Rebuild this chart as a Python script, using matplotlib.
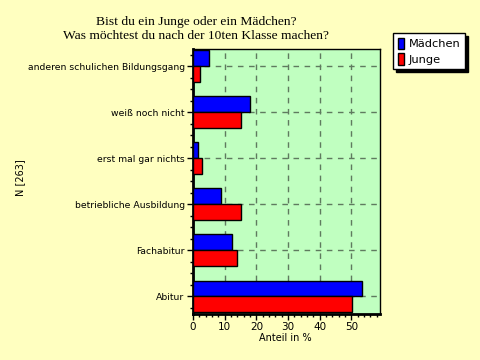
import matplotlib
matplotlib.use("Agg")
import matplotlib.pyplot as plt
import numpy as np
from matplotlib.ticker import MultipleLocator
from matplotlib.patches import Patch

categories = ["Abitur", "Fachabitur", "betriebliche Ausbildung",
              "erst mal gar nichts", "weiß noch nicht",
              "anderen schulichen Bildungsgang"]
maedchen = [53.4, 12.2, 8.7, 1.5, 17.9, 4.9]
junge = [50.2, 13.8, 15.1, 2.7, 15.1, 2.1]
series_names = ["Mädchen", "Junge"]
title_lines = ["Bist du ein Junge oder ein Mädchen?",
               "Was möchtest du nach der 10ten Klasse machen?"]

fig = plt.figure(figsize=(4.8, 3.6), dpi=100)
fig.patch.set_facecolor("#FFFFC0")
ax = fig.add_axes([193/480, 1-313.5/360, (380-193)/480, (313.5-49)/360])
ax.set_facecolor("#C0FFC0")

y = np.arange(len(categories))
h = 0.345
ax.barh(y + h/2, maedchen, height=h, color="#0000FF", edgecolor="black", linewidth=1, zorder=3)
ax.barh(y - h/2, junge, height=h, color="#FF0000", edgecolor="black", linewidth=1, zorder=3)

ax.set_xlim(0, 59)
ax.set_ylim(-0.37, len(categories) - 1 + 0.37)
ax.set_yticks(y)
ax.set_yticklabels(categories)
ax.yaxis.set_minor_locator(MultipleLocator(0.25))
ax.xaxis.set_minor_locator(MultipleLocator(2))
ax.set_xticks([0, 10, 20, 30, 40, 50])
ax.tick_params(axis="both", which="major", length=4, width=1, colors="black")
ax.tick_params(axis="y", which="major", labelsize=6.7, pad=2)
ax.tick_params(axis="x", which="major", labelsize=7.5, pad=2)
ax.tick_params(axis="both", which="minor", length=2.5, width=1)

ax.set_axisbelow(True)
ax.grid(True, which="major", color="#5f7a5f", linestyle=(0, (4, 4)), linewidth=1)

for s in ["left", "bottom"]:
    ax.spines[s].set_linewidth(2)
for s in ["top", "right"]:
    ax.spines[s].set_linewidth(1)

fig.text(196/480, 1-22/360, title_lines[0], ha="center", va="center",
         family="Liberation Serif", fontsize=9.7)
fig.text(196/480, 1-36/360, title_lines[1], ha="center", va="center",
         family="Liberation Serif", fontsize=9.7)
fig.text(285/480, 1-338/360, "Anteil in %", ha="center", va="center", fontsize=7)
fig.text(20/480, 1-178/360, "N [263]", ha="center", va="center", rotation=90, fontsize=7)

handles = [Patch(facecolor="#0000FF", edgecolor="black"),
           Patch(facecolor="#FF0000", edgecolor="black")]
leg = fig.legend(handles, series_names, loc="upper left",
                 bbox_to_anchor=(393/480, 1-33/360), fontsize=8.2,
                 frameon=True, fancybox=False, edgecolor="black",
                 facecolor="white", framealpha=1,
                 shadow={"color": "black", "alpha": 1},
                 handlelength=0.6, handleheight=1.2, handletextpad=0.4,
                 borderpad=0.4, labelspacing=0.35, borderaxespad=0)
leg.get_frame().set_linewidth(1)

fig.savefig("out.png", dpi=100, facecolor=fig.get_facecolor())
